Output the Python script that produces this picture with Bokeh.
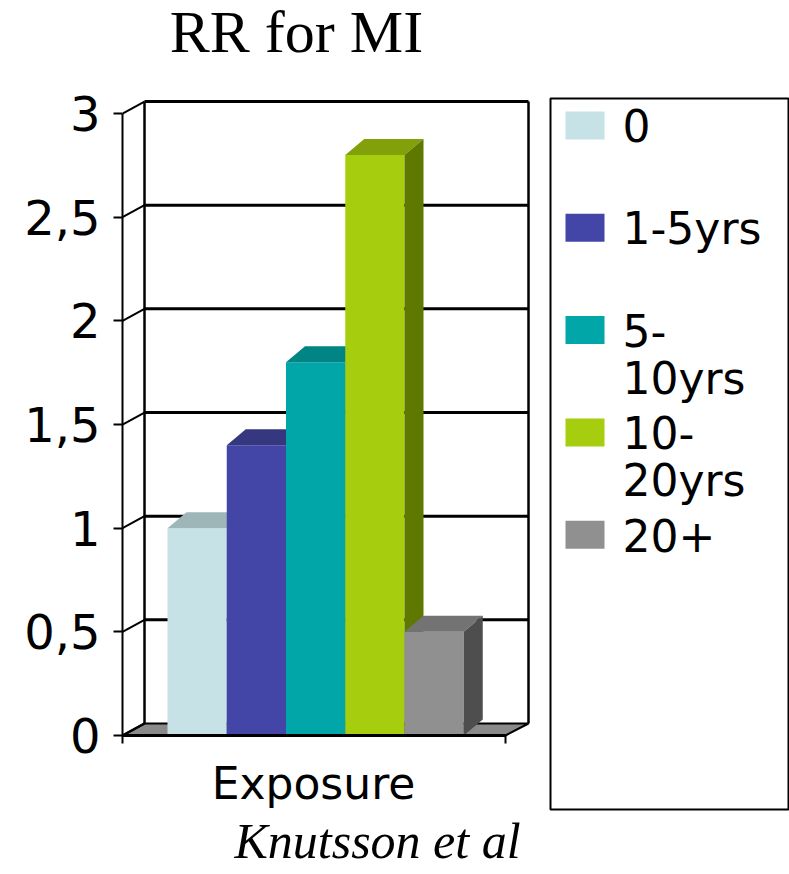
from bokeh.plotting import figure
from bokeh.models import Range1d, FixedTicker
from bokeh.core.properties import value
from bokeh.embed import file_html
from bokeh.resources import INLINE

# ---- data -------------------------------------------------------------
title_text = "RR for MI"
x_label = "Exposure"
source_note = "Knutsson et al"
categories = ["0", "1-5yrs", "5-\n10yrs", "10-\n20yrs", "20+"]
rr_values = [1.0, 1.4, 1.8, 2.8, 0.5]
front_colors = ["#c6e2e6", "#4346a6", "#00a6a8", "#a6ce0e", "#909090"]
top_colors = ["#9fb6b9", "#35377f", "#008484", "#82a00a", "#737373"]
side_colors = ["#8ea2a5", "#2c2e6a", "#006d6e", "#5e7800", "#4e4e4e"]
y_ticks = [0, 0.5, 1, 1.5, 2, 2.5, 3]
y_tick_labels = ["0", "0,5", "1", "1,5", "2", "2,5", "3"]

# ---- layout (pixels) --------------------------------------------------
W, H = 789, 874
AXIS_X = 122          # front-left corner of the floor / value axis
ZERO_Y = 735          # pixel row of RR = 0 on the front plane
PX_PER_UNIT = 207.33  # vertical pixels per RR unit
WALL_DX, WALL_DY = 22, 12   # depth offset of the back wall
FLOOR_RIGHT = 505
BAR_LEFT, BAR_W = 167, 59.25
BAR_DX, BAR_DY = 19, 16     # depth offset of the bars


def vy(py):
    """pixel row -> RR units"""
    return (ZERO_Y - py) / PX_PER_UNIT


def dv(dpx):
    return dpx / PX_PER_UNIT


def baseline(py, size):
    """RR-unit y for a text whose baseline should sit on pixel row py"""
    return vy(py - 0.4 * size)


p = figure(width=W, height=H,
           x_range=Range1d(AXIS_X, W), y_range=Range1d(vy(H), vy(0)),
           min_border_left=AXIS_X, min_border_right=0,
           min_border_top=0, min_border_bottom=0,
           x_axis_location=None, y_axis_location="left",
           output_backend="svg", toolbar_location=None)
p.grid.visible = False
p.outline_line_color = None
p.background_fill_color = "white"
p.border_fill_color = "white"

# value axis on the front plane
ax = p.yaxis[0]
ax.ticker = FixedTicker(ticks=y_ticks)
ax.major_label_overrides = {float(t): s for t, s in zip(y_ticks, y_tick_labels)}
ax.bounds = (vy(743), y_ticks[-1])
ax.axis_line_width = 2
ax.axis_line_color = "black"
ax.major_tick_line_width = 2
ax.major_tick_line_color = "black"
ax.major_tick_out = 9
ax.major_tick_in = 0
ax.minor_tick_out = 0
ax.minor_tick_in = 0
ax.major_label_standoff = 13
ax.major_label_text_font = "DejaVu Sans"
ax.major_label_text_font_size = "48px"
ax.major_label_text_color = "black"

wd = dv(WALL_DY)
back_left = AXIS_X + WALL_DX
back_right = FLOOR_RIGHT + 23

# floor
p.patch([AXIS_X, FLOOR_RIGHT, back_right, back_left], [0, 0, wd, wd],
        fill_color="#8a8a8a", line_color="black", line_width=2)

# back wall gridlines and edges
grid_levels = [t + wd for t in y_ticks[1:]]
p.segment(x0=[back_left] * len(grid_levels), x1=[back_right] * len(grid_levels),
          y0=grid_levels, y1=grid_levels, line_color="black", line_width=3)
p.segment(x0=[back_left, back_right], x1=[back_left, back_right],
          y0=[wd, wd], y1=[y_ticks[-1] + wd] * 2, line_color="black", line_width=2.5)

# side-wall depth connectors from each tick
p.segment(x0=[AXIS_X] * len(y_ticks), x1=[back_left] * len(y_ticks),
          y0=y_ticks, y1=[t + wd for t in y_ticks], line_color="black", line_width=2)

# 3D bars, painted left to right so each one overlaps its neighbour's side
bd = dv(BAR_DY)
for i, val in enumerate(rr_values):
    x0 = BAR_LEFT + i * BAR_W
    x1 = x0 + BAR_W
    p.quad(left=x0, right=x1, bottom=0, top=val,
           fill_color=front_colors[i], line_color=None)
    p.patch([x0, x1, x1 + BAR_DX, x0 + BAR_DX], [val, val, val + bd, val + bd],
            fill_color=top_colors[i], line_color=None)
    p.patch([x1, x1 + BAR_DX, x1 + BAR_DX, x1], [0, bd, val + bd, val],
            fill_color=side_colors[i], line_color=None)

# front floor edge and its end tick
p.segment(x0=[AXIS_X], x1=[FLOOR_RIGHT], y0=[0], y1=[0], line_color="black", line_width=3)
p.segment(x0=[FLOOR_RIGHT], x1=[FLOOR_RIGHT], y0=[0], y1=[vy(743)], line_color="black", line_width=2)

# legend
p.quad(left=550, right=788, top=vy(98), bottom=vy(809),
       fill_color="white", line_color="black", line_width=2)
ROW0, ROW_STEP, LINE_STEP = 111, 102.3, 48
LEG_SIZE = 44
for i, cat in enumerate(categories):
    top_px = ROW0 + i * ROW_STEP
    p.quad(left=565, right=604, top=vy(top_px), bottom=vy(top_px + 28),
           fill_color=front_colors[i], line_color=None)
    for j, line in enumerate(cat.split("\n")):
        p.text(x=[622], y=[baseline(top_px + 32 + j * LINE_STEP, LEG_SIZE)], text=[line],
               text_font=value("DejaVu Sans"), text_font_size=value(f"{LEG_SIZE}px"),
               text_color="black", text_align="left", text_baseline="alphabetic")

# titles
p.text(x=[296], y=[baseline(55, 60)], text=[title_text],
       text_font=value("Liberation Serif"), text_font_size=value("60px"),
       text_color="black", text_align="center", text_baseline="alphabetic")
p.text(x=[313], y=[baseline(801, 44)], text=[x_label],
       text_font=value("DejaVu Sans"), text_font_size=value("44px"),
       text_color="black", text_align="center", text_baseline="alphabetic")
p.text(x=[377], y=[baseline(860, 50)], text=[source_note],
       text_font=value("Liberation Serif"), text_font_size=value("50px"),
       text_font_style="italic",
       text_color="black", text_align="center", text_baseline="alphabetic")

open("out.html", "w").write(file_html(p, INLINE))
